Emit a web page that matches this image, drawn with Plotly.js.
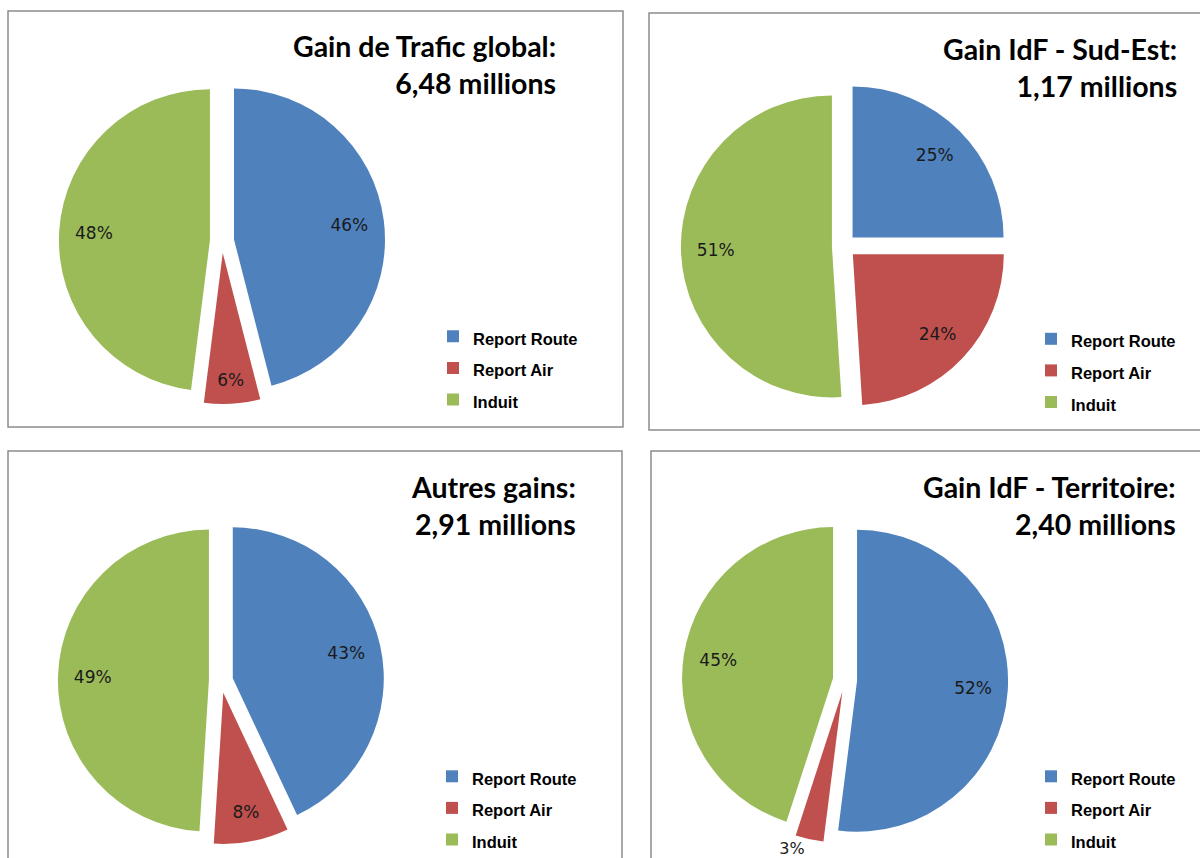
<!DOCTYPE html>
<html>
<head>
<meta charset="utf-8">
<script src="https://cdn.plot.ly/plotly-3.0.1.min.js"></script>
<style>
  html, body { margin: 0; padding: 0; background: #ffffff; }
  #chart { width: 1200px; height: 858px; }
</style>
</head>
<body>
<div id="chart"></div>
<script>
// ---- data ----
const categories = ['Report Route', 'Report Air', 'Induit'];
const panelTitles = ['Gain de Trafic global:', 'Gain IdF - Sud-Est:', 'Autres gains:', 'Gain IdF - Territoire:'];
const panelTotals = ['6,48 millions', '1,17 millions', '2,91 millions', '2,40 millions'];
const globalShares = [46, 6, 48];
const sudEstShares = [25, 24, 51];
const autresShares = [43, 8, 49];
const territoireShares = [52, 3, 45];

// ---- styling / layout ----
const sliceColors = ['#4F81BD', '#C0504D', '#9BBB59'];
const W = 1200, H = 858, R = 151, PULL = 0.08;
const shareSets = [globalShares, sudEstShares, autresShares, territoireShares];
const panels = [
  { box: [8, 11, 623, 427],    center: [222, 241], title: [558, 27],  legend: [433, 315.5], textpos: ['inside', 'inside', 'inside'] },
  { box: [649, 13, 1210, 430], center: [844, 246], title: [1179, 30], legend: [1031, 318],  textpos: ['inside', 'inside', 'inside'] },
  { box: [8, 451, 622, 870],   center: [221, 681], title: [578, 468], legend: [432, 755.5], textpos: ['inside', 'inside', 'inside'] },
  { box: [651, 451, 1210, 870], center: [845, 680], title: [1178, 468], legend: [1031, 755.5], textpos: ['inside', 'outside', 'inside'] }
];
const legendIds = ['legend', 'legend2', 'legend3', 'legend4'];
const legendLabels = categories.map(c => '<span style="font-size:16.5px">' + c + '</span>');
const labelFont = { family: 'DejaVu Sans, Verdana, sans-serif', size: 17, color: '#1a1a1a' };
const outsideLabelFont = { family: 'DejaVu Sans, Verdana, sans-serif', size: 16, color: '#1a1a1a' };

const half = R * (1 + PULL);
const traces = [];
const shapes = [];
const annotations = [];
const layout = {
  width: W, height: H,
  margin: { l: 0, r: 0, t: 0, b: 0, autoexpand: false },
  paper_bgcolor: '#ffffff',
  plot_bgcolor: '#ffffff',
  showlegend: true
};

panels.forEach((p, i) => {
  const dom = {
    x: [(p.center[0] - half) / W, (p.center[0] + half) / W],
    y: [1 - (p.center[1] + half) / H, 1 - (p.center[1] - half) / H]
  };
  traces.push({
    type: 'pie',
    values: shareSets[i],
    labels: legendLabels,
    sort: false,
    direction: 'clockwise',
    rotation: 0,
    pull: PULL,
    marker: { colors: sliceColors, line: { width: 0 } },
    textinfo: 'none',
    hoverinfo: 'label+percent',
    domain: dom,
    legend: legendIds[i],
    legendgroup: 'panel' + (i + 1),
    showlegend: true
  });
  traces.push({
    type: 'pie',
    values: shareSets[i],
    labels: categories,
    sort: false,
    direction: 'clockwise',
    rotation: 0,
    hole: 0.54,
    pull: PULL,
    marker: { colors: ['rgba(0,0,0,0)', 'rgba(0,0,0,0)', 'rgba(0,0,0,0)'], line: { width: 0 } },
    texttemplate: '%{value}%',
    textposition: p.textpos,
    insidetextorientation: 'horizontal',
    textfont: labelFont,
    insidetextfont: labelFont,
    outsidetextfont: outsideLabelFont,
    hoverinfo: 'skip',
    showlegend: false,
    legend: legendIds[i],
    domain: dom
  });
  shapes.push({
    type: 'rect', xref: 'paper', yref: 'paper',
    x0: p.box[0] / W, x1: p.box[2] / W,
    y0: 1 - p.box[3] / H, y1: 1 - p.box[1] / H,
    line: { color: '#8c8c8c', width: 1.5 },
    fillcolor: 'rgba(0,0,0,0)'
  });
  annotations.push({
    xref: 'paper', yref: 'paper',
    x: p.title[0] / W, y: 1 - p.title[1] / H,
    xanchor: 'right', yanchor: 'top', align: 'right',
    showarrow: false,
    text: panelTitles[i] + '<br>' + panelTotals[i],
    font: { family: 'Lato, Carlito, sans-serif', size: 28.5, color: '#000000', weight: 'bold' }
  });
  layout[legendIds[i]] = {
    xref: 'container', yref: 'container',
    x: p.legend[0] / W, y: 1 - p.legend[1] / H,
    xanchor: 'left', yanchor: 'top',
    bgcolor: 'rgba(0,0,0,0)', borderwidth: 0,
    font: { family: 'Liberation Sans, Arial, sans-serif', size: 22, color: '#000000', weight: 'bold' },
    itemclick: false, itemdoubleclick: false
  };
});
layout.shapes = shapes;
layout.annotations = annotations;

Plotly.newPlot('chart', traces, layout, { displayModeBar: false, staticPlot: true });
</script>
</body>
</html>
